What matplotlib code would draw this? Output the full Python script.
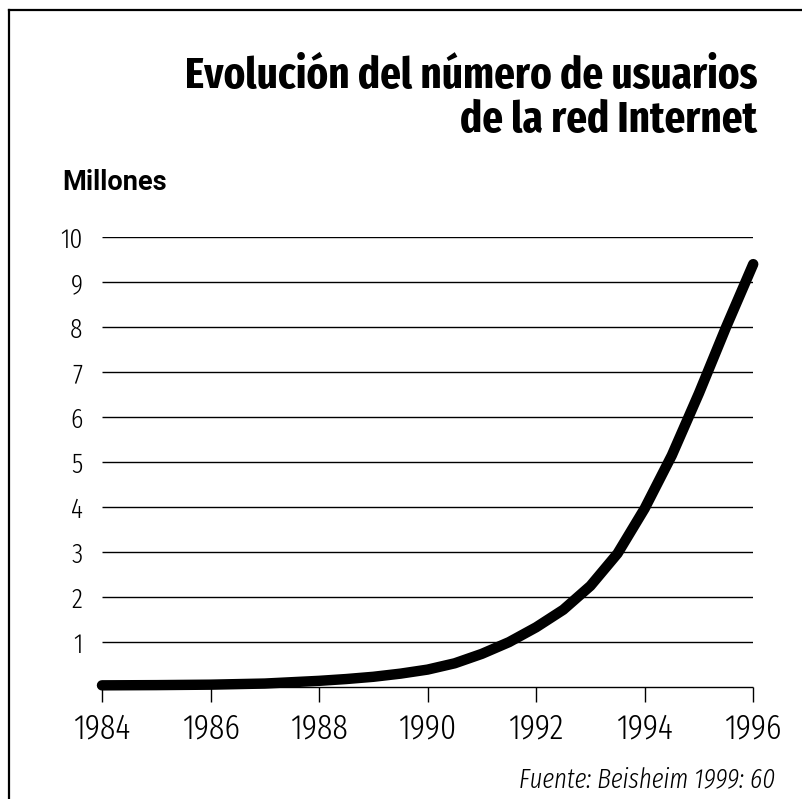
import matplotlib
matplotlib.use("Agg")
import matplotlib.pyplot as plt
from matplotlib.lines import Line2D

# Data (millions of Internet users)
years = [1984, 1985, 1986, 1987, 1988, 1988.5, 1989, 1989.5, 1990, 1990.5,
         1991, 1991.5, 1992, 1992.5, 1993, 1993.5, 1994, 1994.5, 1995,
         1995.5, 1996]
users = [0.04, 0.045, 0.055, 0.08, 0.14, 0.18, 0.23, 0.3, 0.39, 0.53,
         0.74, 1.0, 1.33, 1.72, 2.25, 2.97, 3.97, 5.15, 6.53,
         8.0, 9.4]
xticks = [1984, 1986, 1988, 1990, 1992, 1994, 1996]
yticks = [1, 2, 3, 4, 5, 6, 7, 8, 9, 10]

COND = ["Fira Sans Extra Condensed", "Roboto Condensed", "DejaVu Sans"]
WIDE = ["Roboto", "DejaVu Sans"]

fig = plt.figure(figsize=(8.03, 7.99), dpi=100)
ax = fig.add_axes([0.127, 0.140, 0.811, 0.5632])
ax.set_xlim(1984, 1996)
ax.set_ylim(0, 10)

ax.hlines(yticks, 1984, 1996, color="black", linewidth=1.0)
ax.hlines(0, 1984, 1996, color="black", linewidth=1.0, clip_on=False)
ax.plot(years, users, color="black", linewidth=7.5, solid_capstyle="round",
        solid_joinstyle="round", clip_on=False, zorder=3)

for s in ax.spines.values():
    s.set_visible(False)
ax.set_xticks(xticks)
ax.set_yticks(yticks)
ax.tick_params(axis="x", length=11, width=1.0, direction="out", pad=7)
ax.tick_params(axis="y", length=0, pad=14)
for lbl in ax.get_xticklabels():
    lbl.set_fontfamily(COND)
    lbl.set_fontweight(300)
    lbl.set_fontsize(25)
for lbl in ax.get_yticklabels():
    lbl.set_fontfamily(COND)
    lbl.set_fontweight(300)
    lbl.set_fontsize(20)

fig.text(757 / 803, 1 - 77 / 799, "Evolución del número de usuarios",
         ha="right", va="center", fontsize=32, fontweight="bold", family=COND)
fig.text(757 / 803, 1 - 121 / 799, "de la red Internet",
         ha="right", va="center", fontsize=32, fontweight="bold", family=COND)
fig.text(62 / 803, 1 - 183 / 799, "Millones", ha="left", va="center",
         fontsize=19.5, fontweight="bold", family=WIDE)
fig.text(775 / 803, 1 - 779 / 799, "Fuente: Beisheim 1999: 60", ha="right",
         va="center", fontsize=19.5, style="italic", fontweight=300, family=COND)

# frame: top and left edges only
fig.add_artist(Line2D([8.5 / 803, 8.5 / 803], [0, 1 - 10 / 799],
                      transform=fig.transFigure, color="black", linewidth=1.6))
fig.add_artist(Line2D([8.5 / 803, 1], [1 - 10 / 799, 1 - 10 / 799],
                      transform=fig.transFigure, color="black", linewidth=1.6))

fig.savefig("out.png", dpi=100)
